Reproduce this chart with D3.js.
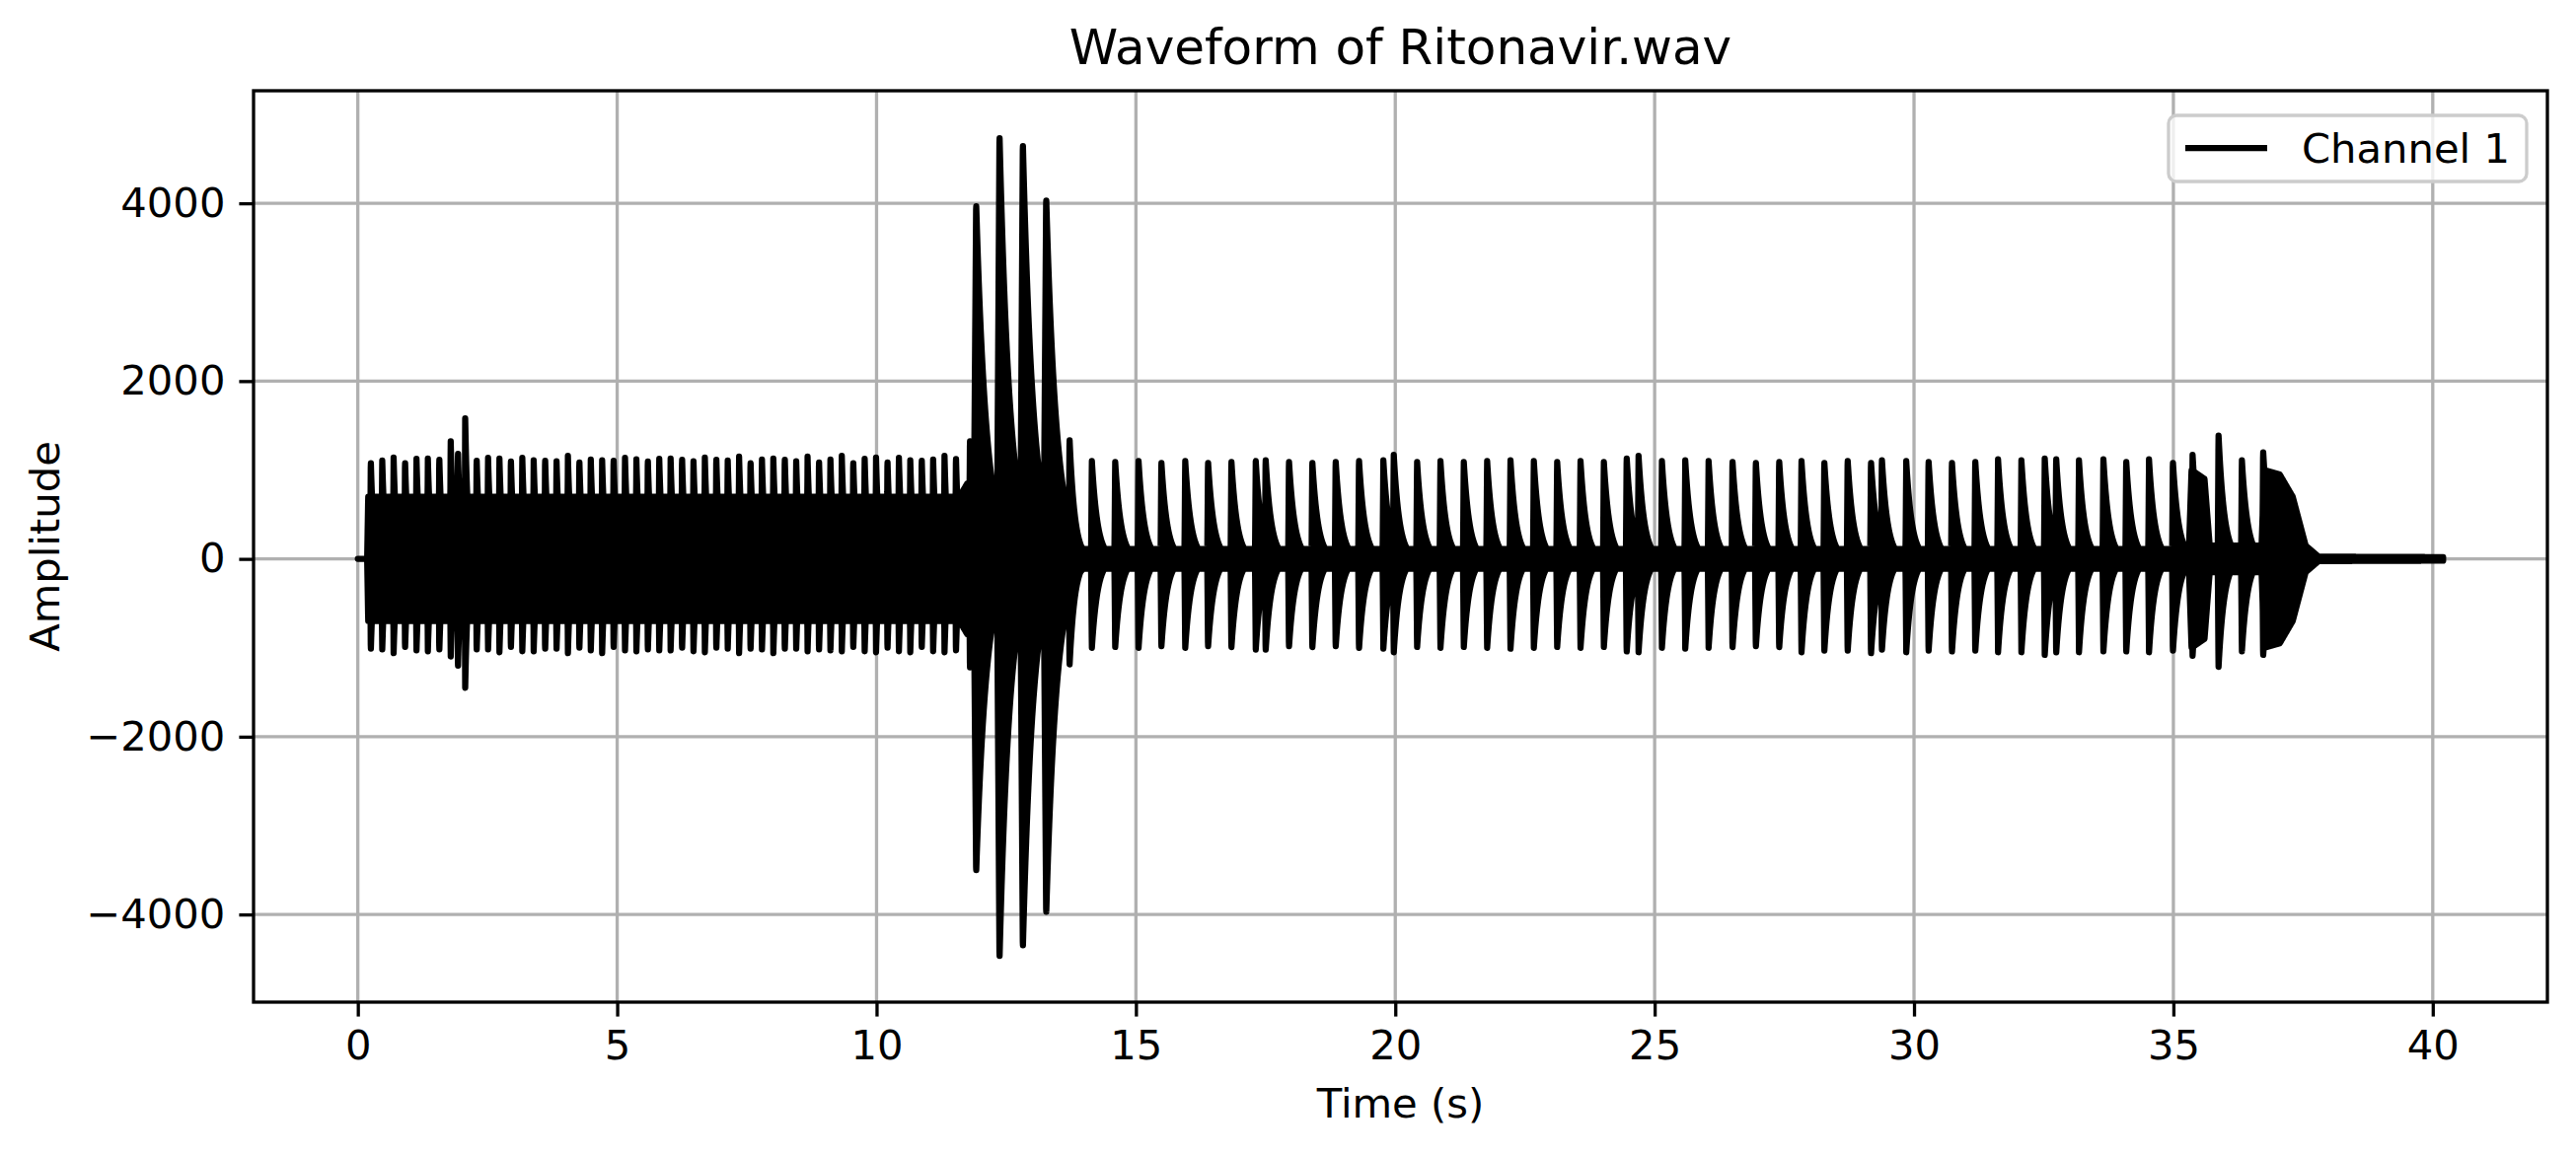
<!DOCTYPE html>
<html>
<head>
<meta charset="utf-8">
<script src="https://cdn.jsdelivr.net/npm/d3@7"></script>
<style>
  body { margin: 0; background: #fff; }
  text { font-family: "DejaVu Sans", sans-serif; }
</style>
</head>
<body>
<svg id="chart" width="2611" height="1172"></svg>
<script>
// pulses: time (s), positive peak, negative peak
const denseTimes = [0.25,0.47,0.69,0.91,1.13,1.35,1.57,1.79,1.93,2.07,2.29,2.51,2.73,2.95,3.17,3.39,3.61,3.83,4.05,4.27,4.49,4.71,4.93,5.15,5.37,5.59,5.81,6.03,6.25,6.47,6.69,6.91,7.13,7.35,7.57,7.79,8.01,8.23,8.45,8.67,8.89,9.11,9.33,9.55,9.77,9.99,10.21,10.43,10.65,10.87,11.09,11.31,11.53];
const denseTops = [1120,1130,1140,1120,1150,1130,1160,1350,1230,1580,1150,1160,1130,1140,1160,1110,1150,1120,1160,1130,1140,1110,1150,1160,1120,1140,1150,1130,1160,1120,1140,1160,1130,1150,1120,1140,1130,1160,1120,1150,1130,1140,1160,1120,1150,1140,1130,1160,1110,1150,1140,1160,1170];
const denseBottoms = [-1050,-1040,-1060,-1030,-1050,-1040,-1060,-1120,-1250,-1450,-1060,-1040,-1050,-1030,-1060,-1040,-1050,-1030,-1060,-1040,-1050,-1060,-1030,-1050,-1040,-1060,-1050,-1030,-1040,-1060,-1050,-1040,-1030,-1060,-1050,-1040,-1060,-1050,-1030,-1040,-1060,-1050,-1040,-1030,-1060,-1050,-1040,-1060,-1050,-1030,-1060,-1050,-1070];

const burstTimes = [11.80, 11.92, 12.37, 12.82, 13.27, 13.72];
const burstTops = [1350, 4005, 4780, 4690, 4070, 1360];
const burstBottoms = [-1245, -3535, -4510, -4390, -4010, -1210];

const sparseTimes = [14.15,14.60,15.05,15.49,15.95,16.39,16.84,17.31,17.50,17.95,18.40,18.85,19.30,19.77,19.97,20.42,20.87,21.32,21.77,22.22,22.67,23.12,23.57,24.02,24.46,24.69,25.14,25.59,26.04,26.50,26.95,27.40,27.83,28.27,28.72,29.17,29.38,29.85,30.28,30.73,31.18,31.62,32.07,32.52,32.74,33.18,33.65,34.09,34.53,34.99,35.37,35.87,36.32,36.73];
const sparseTops = [1110,1100,1110,1100,1110,1100,1110,1100,1130,1110,1100,1110,1120,1110,1180,1100,1110,1100,1110,1120,1110,1100,1110,1100,1150,1160,1100,1110,1100,1110,1100,1110,1110,1100,1120,1100,1130,1100,1110,1100,1110,1120,1110,1130,1140,1110,1130,1110,1120,1100,1170,1400,1120,1220];
const sparseBottoms = [-1010,-1000,-1010,-1000,-1010,-1000,-1010,-1020,-1040,-1000,-1010,-1000,-1020,-1010,-1060,-1000,-1010,-1000,-1010,-1020,-1010,-1000,-1010,-1000,-1060,-1050,-1000,-1010,-1000,-1010,-1000,-1010,-1060,-1050,-1050,-1080,-1040,-1050,-1050,-1060,-1050,-1050,-1050,-1080,-1070,-1050,-1050,-1060,-1050,-1050,-1090,-1225,-1050,-1100];

// filled core of the signal between pulses (time, half-height)
const bandTimes = [0, 0.18, 0.2, 11.6, 11.75, 11.85, 12.2, 13.5, 14.0, 35.3, 35.35, 35.6, 35.7, 36.7, 36.75, 37.05, 37.3, 37.55, 37.8, 40.2];
const bandLevels = [0, 0, 700, 700, 850, 750, 130, 130, 110, 110, 1000, 900, 150, 150, 1000, 950, 700, 150, 25, 20];

const xTicks = [0, 5, 10, 15, 20, 25, 30, 35, 40];
const yTicks = [-4000, -2000, 0, 2000, 4000];

const W = 2611, H = 1172;
const m = { left: 257, right: 2582, top: 92, bottom: 1016 };
const svg = d3.select("#chart");

const x = d3.scaleLinear().domain([-2.01, 42.21]).range([m.left, m.right]);
const y = d3.scaleLinear().domain([-4986, 5266]).range([m.bottom, m.top]);

// grid
svg.append("g").selectAll("line").data(xTicks).join("line")
  .attr("x1", d => x(d)).attr("x2", d => x(d)).attr("y1", m.top).attr("y2", m.bottom)
  .attr("stroke", "#b0b0b0").attr("stroke-width", 3.3);
svg.append("g").selectAll("line").data(yTicks).join("line")
  .attr("y1", d => y(d)).attr("y2", d => y(d)).attr("x1", m.left).attr("x2", m.right)
  .attr("stroke", "#b0b0b0").attr("stroke-width", 3.3);

// envelope of all pulses
const pulses = [];
denseTimes.forEach((t, i) => pulses.push({ t, top: denseTops[i], bot: denseBottoms[i], rise: 0.012, tau: 0.05 }));
burstTimes.forEach((t, i) => pulses.push({ t, top: burstTops[i], bot: burstBottoms[i], rise: i == 0 || i == 5 ? 0.015 : 0.05, tau: i == 0 || i == 5 ? 0.1 : 0.2 }));
sparseTimes.forEach((t, i) => pulses.push({ t, top: sparseTops[i], bot: sparseBottoms[i], rise: 0.015, tau: 0.11 }));

const band = d3.scaleLinear().domain(bandTimes).range(bandLevels).clamp(true);
function shape(dt, p) {
  if (dt < -p.rise || dt > 0.8) return 0;
  if (dt < 0) return 1 + dt / p.rise;
  return Math.exp(-dt / p.tau);
}
const ts = d3.range(0, 40.2001, 0.003);
const env = ts.map(t => {
  let hi = band(t), lo = -band(t);
  pulses.forEach(p => {
    const s = shape(t - p.t, p);
    if (s > 0) { hi = Math.max(hi, p.top * s); lo = Math.min(lo, p.bot * s); }
  });
  return { t, hi, lo };
});

svg.append("clipPath").attr("id", "clip").append("rect")
  .attr("x", m.left).attr("y", m.top).attr("width", m.right - m.left).attr("height", m.bottom - m.top);

svg.append("path").datum(env)
  .attr("clip-path", "url(#clip)")
  .attr("d", d3.area().x(d => x(d.t)).y0(d => y(d.lo)).y1(d => y(d.hi)))
  .attr("fill", "#000").attr("stroke", "#000").attr("stroke-width", 6.25).attr("stroke-linejoin", "round");

// frame
svg.append("rect").attr("x", m.left).attr("y", m.top).attr("width", m.right - m.left).attr("height", m.bottom - m.top)
  .attr("fill", "none").attr("stroke", "#000").attr("stroke-width", 3.3);

// axes
const xa = svg.append("g").attr("transform", `translate(0,${m.bottom})`)
  .call(d3.axisBottom(x).tickValues(xTicks).tickSize(14.6).tickPadding(14).tickFormat(d3.format("d")));
const ya = svg.append("g").attr("transform", `translate(${m.left},0)`)
  .call(d3.axisLeft(y).tickValues(yTicks).tickSize(14.6).tickPadding(14).tickFormat(d3.format("d")));
[xa, ya].forEach(a => {
  a.select(".domain").remove();
  a.selectAll("line").attr("stroke", "#000").attr("stroke-width", 3.3);
  a.selectAll("text").attr("font-size", 41.7).attr("fill", "#000").attr("font-family", "DejaVu Sans");
});

svg.append("text").attr("x", (m.left + m.right) / 2).attr("y", 65).attr("text-anchor", "middle")
  .attr("font-size", 50).text("Waveform of Ritonavir.wav");
svg.append("text").attr("x", (m.left + m.right) / 2).attr("y", 1133).attr("text-anchor", "middle")
  .attr("font-size", 41.7).text("Time (s)");
svg.append("text").attr("transform", `translate(60,${(m.top + m.bottom) / 2}) rotate(-90)`).attr("text-anchor", "middle")
  .attr("font-size", 41.7).text("Amplitude");

// legend
const lg = svg.append("g").attr("transform", "translate(2198,117)");
lg.append("rect").attr("width", 363).attr("height", 67).attr("rx", 8)
  .attr("fill", "#fff").attr("fill-opacity", 0.8).attr("stroke", "#cccccc").attr("stroke-width", 3.3);
lg.append("line").attr("x1", 17).attr("x2", 100).attr("y1", 33).attr("y2", 33)
  .attr("stroke", "#000").attr("stroke-width", 6.25);
lg.append("text").attr("x", 135).attr("y", 48).attr("font-size", 41.7).text("Channel 1");
</script>
</body>
</html>
